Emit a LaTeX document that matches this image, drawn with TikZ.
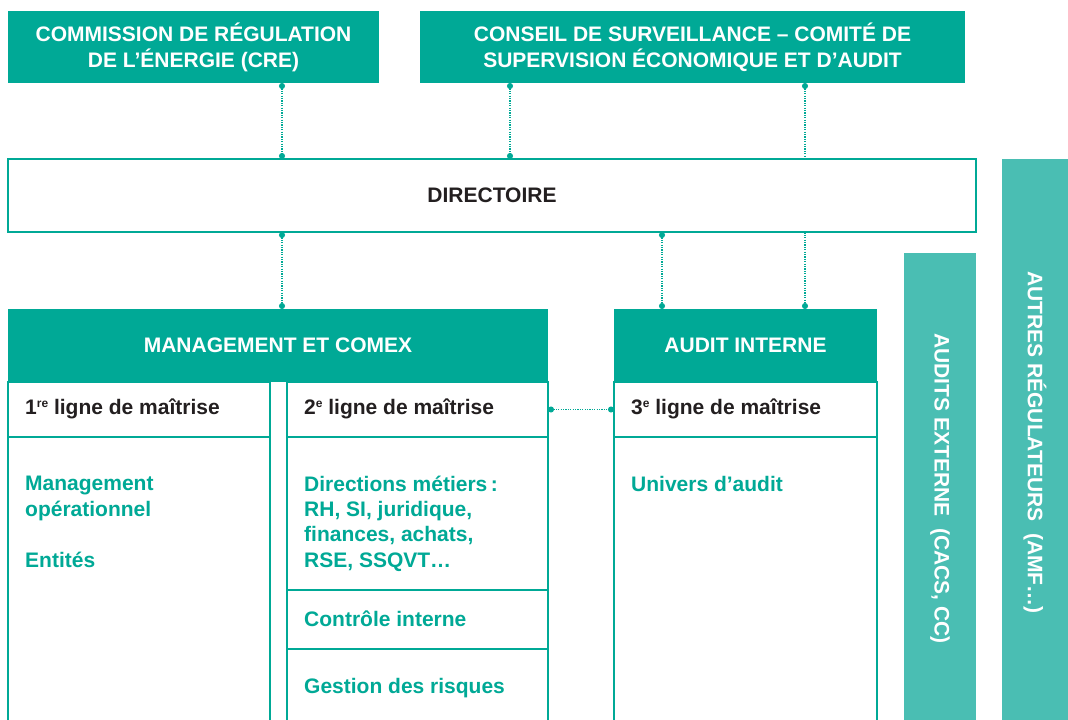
\documentclass[tikz,border=0pt]{standalone}
\usepackage{fontspec}
\setmainfont{Liberation Sans}
\usetikzlibrary{arrows.meta,calc}
\definecolor{tealA}{RGB}{0,169,150}
\definecolor{tealB}{RGB}{74,190,179}
\definecolor{ink}{RGB}{35,31,32}
\newcommand{\supx}[1]{\raisebox{0.55ex}{\fontsize{12}{12}\selectfont #1}}
\begin{document}
\begin{tikzpicture}[x=1pt,y=-1pt,
  box/.style={rectangle,inner sep=0pt,outer sep=0pt,anchor=north west},
  hdr/.style={box,fill=tealA,text=white,font=\bfseries\fontsize{21}{26}\selectfont,align=center},
  side/.style={box,fill=tealB},
  cell/.style={box,draw=tealA,line width=1.2pt,fill=white},
  ttl/.style={anchor=base west,text=ink,font=\bfseries\fontsize{21}{25}\selectfont,inner sep=0pt},
  body/.style={anchor=base west,text=tealA,font=\bfseries\fontsize{21}{25.3}\selectfont,align=left,inner sep=0pt},
  vtext/.style={rotate=-90,text=white,font=\bfseries\fontsize{21}{25}\selectfont,inner sep=0pt},
  link/.style={draw=tealA,line width=1.1pt,dash pattern=on 1.1pt off 1.3pt,{Circle[length=6pt,width=6pt]}-{Circle[length=6pt,width=6pt]}}
]
\useasboundingbox (0,0) rectangle (1068,720);
\clip (0,0) rectangle (1068,720);
\coordinate (xa) at (282,0);
\coordinate (xb) at (510,0);
\coordinate (xc) at (805,0);
\coordinate (xd) at (662,0);

% top boxes
\node[hdr,minimum width=371pt,minimum height=72pt] (cre) at (8,11) {COMMISSION DE RÉGULATION\\DE L’ÉNERGIE (CRE)};
\node[hdr,minimum width=545pt,minimum height=72pt] (csl) at (420,11) {CONSEIL DE SURVEILLANCE – COMITÉ DE\\SUPERVISION ÉCONOMIQUE ET D’AUDIT};

% side bars
\node[side,minimum width=66pt,minimum height=561pt] (autres) at (1002,159) {};
\node[vtext] (autrest) at ($(autres.center)+(0,3)$) {AUTRES RÉGULATEURS\ \ (AMF…)};
\node[side,minimum width=72pt,minimum height=467pt] (ext) at (904,253) {};
\node[vtext] (extt) at ($(ext.center)+(0,2)$) {AUDITS EXTERNE\ \ (CACS, CC)};

% headers of lower blocks
\node[hdr,minimum width=540pt,minimum height=73pt] (mgmt) at (8,309) {MANAGEMENT ET COMEX};
\node[hdr,minimum width=263pt,minimum height=73pt] (audit) at (614,309) {AUDIT INTERNE};

% connector passing behind the directoire
\draw[link] (csl.south -| xc) -- (audit.north -| xc);

% directoire
\node[cell,minimum width=968pt,minimum height=73pt,text=ink,font=\bfseries\fontsize{21}{25}\selectfont] (dir) at (8,159) {DIRECTOIRE};

% connectors
\draw[link] (cre.south -| xa) -- (dir.north -| xa);
\draw[link] (csl.south -| xb) -- (dir.north -| xb);
\draw[link] (dir.south -| xa) -- (mgmt.north -| xa);
\draw[link] (dir.south -| xd) -- (audit.north -| xd);

% columns
\node[cell,minimum width=262pt,minimum height=55pt] (c1h) at (8,382) {};
\node[cell,minimum width=262pt,minimum height=300pt] (c1b) at (8,437) {};
\node[cell,minimum width=261pt,minimum height=55pt] (c2h) at (287,382) {};
\node[cell,minimum width=261pt,minimum height=153pt] (c2a) at (287,437) {};
\node[cell,minimum width=261pt,minimum height=59pt] (c2b) at (287,590) {};
\node[cell,minimum width=261pt,minimum height=100pt] (c2c) at (287,649) {};
\node[cell,minimum width=263pt,minimum height=55pt] (c3h) at (614,382) {};
\node[cell,minimum width=263pt,minimum height=300pt] (c3b) at (614,437) {};

\draw[link] (c2h.east) -- (c3h.west);

% texts
\node[ttl] (t1) at (25,414) {1\supx{re} ligne de maîtrise};
\node[ttl] (t2) at (304,414) {2\supx{e} ligne de maîtrise};
\node[ttl] (t3) at (631,414) {3\supx{e} ligne de maîtrise};

\node[body] (b1) at (25,516) {Management\\opérationnel};
\node[body] (b2) at (25,567) {Entités};
\node[body] (b3) at (304,567) {Directions métiers\,:\\RH, SI, juridique,\\finances, achats,\\RSE, SSQVT…};
\node[body] (b4) at (304,626) {Contrôle interne};
\node[body] (b5) at (304,693) {Gestion des risques};
\node[body] (b6) at (631,491) {Univers d’audit};
\end{tikzpicture}
\end{document}
